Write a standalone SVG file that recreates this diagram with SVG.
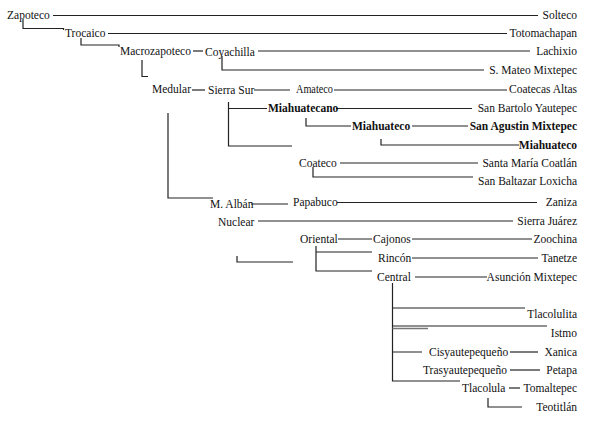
<svg xmlns="http://www.w3.org/2000/svg" width="589" height="422" viewBox="0 0 589 422">
<style>
text{font-family:"Liberation Serif","Times New Roman",serif;font-size:11.5px;fill:#111}
.r{text-anchor:end}
.b{font-weight:bold}
#connectors path{fill:none;stroke:#222;stroke-width:1.2}
#connectors .g{stroke:#777;stroke-width:1.6}
</style>
<rect width="589" height="422" fill="#fff"/>
<g id="connectors">
<path d="M53 15.5H538"/>
<path d="M23 19V28.5H63.5V30"/>
<path d="M108 33.5H507"/>
<path d="M81 38V45H119V47"/>
<path d="M193 51H203"/>
<path d="M258 51H530"/>
<path d="M222 56V70H484"/>
<path d="M142 60V76.5H148"/>
<path d="M192 90H205"/>
<path d="M254 90H290"/>
<path d="M334 90H507"/>
<path d="M228.5 102V146H292M228.5 108.5H267"/>
<path d="M336 108.5H472"/>
<path d="M306 118V126H351"/>
<path d="M412 126H468"/>
<path d="M381 139V145H519"/>
<path d="M340 163H478"/>
<path d="M313 167V177H473"/>
<path d="M168 113V198H213"/>
<path d="M251 204H288"/>
<path d="M337 202.5H537"/>
<path d="M258 221H513"/>
<path d="M338 239H372"/>
<path d="M412 239H532"/>
<path d="M316 246V271H372M316 252H372"/>
<path d="M412 258H538"/>
<path d="M415 277H487"/>
<path d="M237 256V262H293"/>
<path d="M392.5 283V381H460M392.5 308H525M392.5 326H547M392.5 352H422"/>
<path class="g" d="M392.5 328.5H428"/>
<path d="M510 352H538"/>
<path d="M510 370H540"/>
<path d="M509 388H520"/>
<path d="M488 398V407H522"/>
</g>
<g id="n-zapoteco"><text x="7" y="19">Zapoteco</text></g>
<g id="n-solteco"><text class="r" x="577" y="19">Solteco</text></g>
<g id="n-trocaico"><text x="65" y="37">Trocaico</text></g>
<g id="n-totomachapan"><text class="r" x="577" y="37">Totomachapan</text></g>
<g id="n-macrozapoteco"><text x="120" y="55">Macrozapoteco</text></g>
<g id="n-coyachilla"><text x="205" y="56">Coyachilla</text></g>
<g id="n-lachixio"><text class="r" x="577" y="55">Lachixio</text></g>
<g id="n-smateo"><text class="r" x="577" y="74">S. Mateo Mixtepec</text></g>
<g id="n-medular"><text x="152" y="93">Medular</text></g>
<g id="n-sierrasur"><text x="208" y="94">Sierra Sur</text></g>
<g id="n-amateco"><text x="296" y="93" textLength="37" lengthAdjust="spacingAndGlyphs">Amateco</text></g>
<g id="n-coatecasaltas"><text class="r" x="577" y="93">Coatecas Altas</text></g>
<g id="n-miahuatecano"><text class="b" x="268" y="112">Miahuatecano</text></g>
<g id="n-sanbartolo"><text class="r" x="577" y="112">San Bartolo Yautepec</text></g>
<g id="n-miahuateco"><text class="b" x="352" y="130">Miahuateco</text></g>
<g id="n-sanagustin"><text class="b r" x="577" y="130">San Agustin Mixtepec</text></g>
<g id="n-miahuateco2"><text class="b r" x="577" y="149">Miahuateco</text></g>
<g id="n-coateco"><text x="299" y="167">Coateco</text></g>
<g id="n-santamaria"><text class="r" x="577" y="167">Santa María Coatlán</text></g>
<g id="n-sanbaltazar"><text class="r" x="577" y="185">San Baltazar Loxicha</text></g>
<g id="n-malban"><text x="210" y="208">M. Albán</text></g>
<g id="n-papabuco"><text x="293" y="206">Papabuco</text></g>
<g id="n-zaniza"><text class="r" x="577" y="206">Zaniza</text></g>
<g id="n-nuclear"><text x="218" y="226">Nuclear</text></g>
<g id="n-sierrajuarez"><text class="r" x="577" y="225">Sierra Juárez</text></g>
<g id="n-oriental"><text x="300" y="243">Oriental</text></g>
<g id="n-cajonos"><text x="373" y="243">Cajonos</text></g>
<g id="n-zoochina"><text class="r" x="577" y="243">Zoochina</text></g>
<g id="n-rincon"><text x="378" y="262">Rincón</text></g>
<g id="n-tanetze"><text class="r" x="577" y="262">Tanetze</text></g>
<g id="n-central"><text x="377" y="281">Central</text></g>
<g id="n-asuncion"><text class="r" x="577" y="281">Asunción Mixtepec</text></g>
<g id="n-tlacolulita"><text class="r" x="577" y="318">Tlacolulita</text></g>
<g id="n-istmo"><text class="r" x="577" y="337">Istmo</text></g>
<g id="n-cisyautepequeno"><text x="429" y="356">Cisyautepequeño</text></g>
<g id="n-xanica"><text class="r" x="577" y="356">Xanica</text></g>
<g id="n-trasyautepequeno"><text x="423" y="374">Trasyautepequeño</text></g>
<g id="n-petapa"><text class="r" x="577" y="374">Petapa</text></g>
<g id="n-tlacolula"><text x="462" y="392">Tlacolula</text></g>
<g id="n-tomaltepec"><text class="r" x="577" y="392">Tomaltepec</text></g>
<g id="n-teotitlan"><text class="r" x="577" y="411">Teotitlán</text></g>
</svg>
